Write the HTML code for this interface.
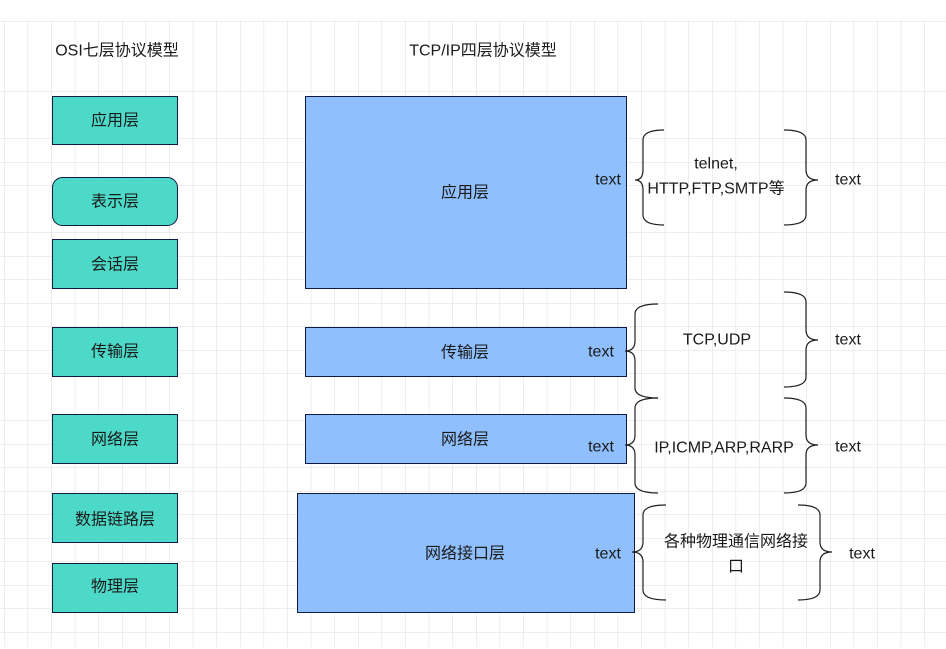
<!DOCTYPE html>
<html><head><meta charset="utf-8"><style>
html,body{margin:0;padding:0;background:#fff}
svg{display:block}
text{font-family:"Liberation Sans","Noto Sans CJK SC",sans-serif;font-size:16px;fill:#1a1a1a}
</style></head><body>
<svg width="946" height="649" viewBox="0 0 946 649" xmlns="http://www.w3.org/2000/svg">
<defs>
<pattern id="g" x="4" y="21" width="23.6" height="23.5" patternUnits="userSpaceOnUse">
<path d="M0 0H23.6M0 0V23.5" stroke="#dcdcdc" stroke-width="1" fill="none"/>
</pattern>
</defs>
<rect x="0" y="20" width="946" height="627" fill="url(#g)"/>
<g text-anchor="middle" dominant-baseline="central">
<text x="117" y="51">OSI七层协议模型</text>
<text x="483" y="51">TCP/IP四层协议模型</text>
</g>
<g fill="#4dd9c8" stroke="#111a40" stroke-width="1">
<rect x="52.5" y="96.5" width="125" height="48"/>
<rect x="52.5" y="177.5" width="125" height="48" rx="10"/>
<rect x="52.5" y="239.5" width="125" height="49"/>
<rect x="52.5" y="327.5" width="125" height="49"/>
<rect x="52.5" y="414.5" width="125" height="49"/>
<rect x="52.5" y="493.5" width="125" height="49"/>
<rect x="52.5" y="563.5" width="125" height="49"/>
</g>
<g fill="#8fbffc" stroke="#111a40" stroke-width="1">
<rect x="305.5" y="96.5" width="321" height="192"/>
<rect x="305.5" y="327.5" width="321" height="49"/>
<rect x="305.5" y="414.5" width="321" height="49"/>
<rect x="297.5" y="493.5" width="337" height="119"/>
</g>
<g text-anchor="middle" dominant-baseline="central">
<text x="115" y="121">应用层</text>
<text x="115" y="202">表示层</text>
<text x="115" y="265">会话层</text>
<text x="115" y="352">传输层</text>
<text x="115" y="440">网络层</text>
<text x="115" y="520">数据链路层</text>
<text x="115" y="587">物理层</text>
<text x="465" y="193">应用层</text>
<text x="465" y="353">传输层</text>
<text x="465" y="440">网络层</text>
<text x="465" y="554">网络接口层</text>
<text x="608" y="180">text</text>
<text x="601" y="352">text</text>
<text x="601" y="447">text</text>
<text x="608" y="554">text</text>
<text x="848" y="180">text</text>
<text x="848" y="340">text</text>
<text x="848" y="447">text</text>
<text x="862" y="554">text</text>
<text x="716" y="164">telnet,</text>
<text x="716" y="189">HTTP,FTP,SMTP等</text>
<text x="717" y="340">TCP,UDP</text>
<text x="724" y="448">IP,ICMP,ARP,RARP</text>
<text x="736" y="542">各种物理通信网络接</text>
<text x="736" y="567">口</text>
</g>
<g fill="none" stroke="#222" stroke-width="1.2">
<path d="M664 130Q643 130 643 140L643 170Q643 180 635 180Q643 180 643 190L643 215Q643 225 664 225"/>
<path d="M784 130Q806 130 806 140L806 170Q806 180 818 180Q806 180 806 190L806 215Q806 225 784 225"/>
<path d="M658 304Q635 304 635 314L635 341Q635 351 625 351Q635 351 635 361L635 388Q635 398 658 398"/>
<path d="M784 292Q806 292 806 302L806 330Q806 340 818 340Q806 340 806 350L806 377Q806 387 784 387"/>
<path d="M658 398Q635 398 635 408L635 435Q635 445 625 445Q635 445 635 455L635 483Q635 493 658 493"/>
<path d="M784 398Q806 398 806 408L806 435Q806 445 818 445Q806 445 806 455L806 483Q806 493 784 493"/>
<path d="M666 505Q643 505 643 515L643 542Q643 552 632 552Q643 552 643 562L643 590Q643 600 666 600"/>
<path d="M798 505Q820 505 820 515L820 542Q820 552 832 552Q820 552 820 562L820 590Q820 600 798 600"/>
</g>
</svg>
</body></html>
